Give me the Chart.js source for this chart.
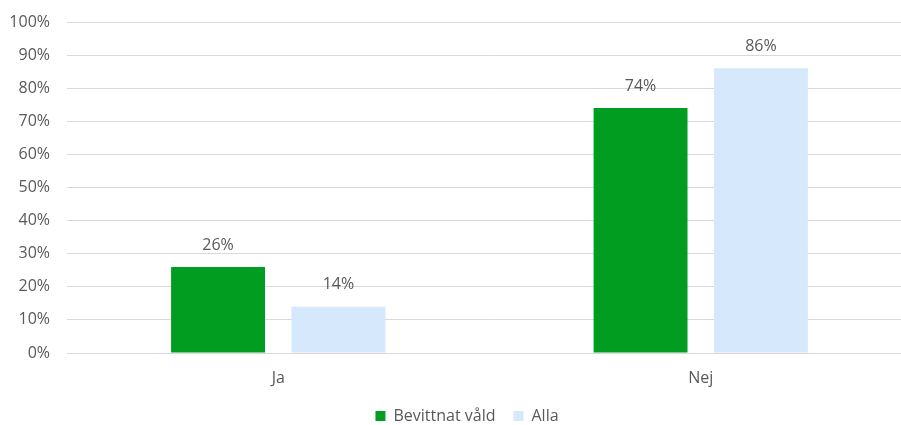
<!DOCTYPE html>
<html lang="sv">
<head>
    <meta charset="UTF-8">
    <title>Bevittnat våld</title>
    <script src="https://cdn.jsdelivr.net/npm/chart.js"></script>
    <style>
        html, body { margin: 0; padding: 0; background: #fff; overflow: hidden; }
        #wrap { width: 912px; height: 425px; position: relative; }
    </style>
</head>
<body>
    <div id="wrap"><canvas id="chart"></canvas></div>

    <script>
        // Data
        const categories = ['Ja', 'Nej'];
        const bevittnat = [26, 74];
        const alla = [14, 86];
        const seriesNames = ['Bevittnat våld', 'Alla'];

        const textColor = '#595959';
        const fontFamily = '"Open Sans", sans-serif';
        const fontSize = 16;

        // Etiketter ovanför staplarna
        const valueLabels = {
            id: 'valueLabels',
            afterDatasetsDraw(chart) {
                const ctx = chart.ctx;
                ctx.save();
                ctx.font = fontSize + 'px ' + fontFamily;
                ctx.fillStyle = textColor;
                ctx.textAlign = 'center';
                ctx.textBaseline = 'middle';
                chart.data.datasets.forEach((ds, i) => {
                    chart.getDatasetMeta(i).data.forEach((bar, j) => {
                        ctx.fillText(ds.data[j] + '%', bar.x, bar.y - 22);
                    });
                });
                ctx.restore();
            }
        };

        // legenden: fast höjd och lite förskjuten åt höger, som i originalet
        const legendTweak = {
            id: 'legendTweak',
            beforeLayout(chart) {
                const lg = chart.legend;
                if (lg && !lg._fixed) {
                    const fit = lg.fit.bind(lg);
                    lg.fit = function () {
                        fit();
                        this.height = 36;
                    };
                    lg._fixed = true;
                }
            },
            afterLayout(chart) {
                const lg = chart.legend;
                if (lg) {
                    lg.left += 11;
                    lg.right += 11;
                    lg.top += 1;
                    lg.bottom += 1;
                }
            }
        };

        const ctx = document.getElementById('chart').getContext('2d');
        new Chart(ctx, {
            type: 'bar',
            data: {
                labels: categories,
                datasets: [
                    {
                        label: seriesNames[0],
                        data: bevittnat,
                        backgroundColor: '#019D21',
                        categoryPercentage: 0.57,
                        barPercentage: 0.78
                    },
                    {
                        label: seriesNames[1],
                        data: alla,
                        backgroundColor: '#D5E8FC',
                        categoryPercentage: 0.57,
                        barPercentage: 0.78
                    }
                ]
            },
            options: {
                responsive: true,
                maintainAspectRatio: false,
                animation: false,
                layout: { padding: { top: 22, left: 0, right: 0, bottom: 0 } },
                plugins: {
                    legend: {
                        position: 'bottom',
                        labels: {
                            boxWidth: 10,
                            boxHeight: 10,
                            color: textColor,
                            font: { family: fontFamily, size: fontSize },
                            padding: 18
                        }
                    },
                    tooltip: { enabled: false }
                },
                scales: {
                    x: {
                        afterFit(scale) { scale.height = 36; },
                        grid: { display: false, drawTicks: false },
                        border: { display: false },
                        ticks: {
                            autoSkip: false,
                            color: textColor,
                            font: { family: fontFamily, size: fontSize },
                            padding: 16
                        }
                    },
                    y: {
                        min: 0,
                        max: 100,
                        afterFit(scale) {
                            scale.width = 67;
                            scale.paddingTop = 0;
                            scale.paddingBottom = 0;
                        },
                        grid: { color: '#d9d9d9', drawTicks: false },
                        border: { display: false },
                        ticks: {
                            stepSize: 10,
                            padding: 17,
                            color: textColor,
                            font: { family: fontFamily, size: fontSize },
                            callback: v => v + '%'
                        }
                    }
                }
            },
            plugins: [valueLabels, legendTweak]
        });
    </script>
</body>
</html>
